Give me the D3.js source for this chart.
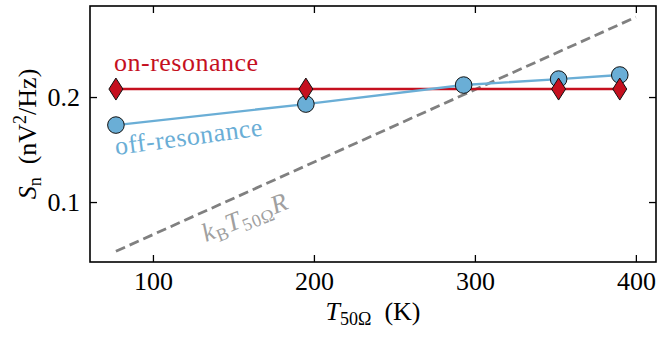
<!DOCTYPE html>
<html>
<head>
<meta charset="utf-8">
<script src="https://cdn.jsdelivr.net/npm/d3@7"></script>
<style>
  body { margin: 0; background: #fff; }
  text { font-family: "Liberation Serif", "DejaVu Serif", serif; }
</style>
</head>
<body>
<div id="chart"></div>
<script>
// Data
const offTemps = [77, 195, 293, 352, 390];
const offValues = [0.1733, 0.1933, 0.2114, 0.2171, 0.2210];
const onTemps = [77, 195, 352, 390];
const onValues = [0.2076, 0.2076, 0.2076, 0.2076];
const theoryTemps = [77, 400];
const theoryValues = [0.0531, 0.2761];
const xTicks = [100, 200, 300, 400];
const yTicks = [0.1, 0.2];

const width = 657;
const height = 339;
const margin = { top: 6, right: 1, bottom: 77, left: 90 };
const w = width - margin.left - margin.right;
const h = height - margin.top - margin.bottom;

const red = "#c5101f";
const blue = "#6aaed6";
const grey = "#808080";
const fs = 26;

const svg = d3.select("#chart")
    .append("svg")
    .attr("width", width)
    .attr("height", height);

const g = svg.append("g")
    .attr("transform", `translate(${margin.left},${margin.top})`);

const x = d3.scaleLinear().domain([60.9, 412.5]).range([0, w]);
const y = d3.scaleLinear().domain([0.0429, 0.2867]).range([h, 0]);

// Axes with inward ticks on all four sides
g.append("g")
    .attr("transform", `translate(0,${h})`)
    .call(d3.axisBottom(x).tickValues(xTicks).tickSizeInner(-7).tickSizeOuter(0).tickPadding(10))
    .call(a => a.selectAll("text").attr("font-size", fs).attr("fill", "#000"));
g.append("g")
    .call(d3.axisTop(x).tickValues(xTicks).tickSizeInner(-7).tickSizeOuter(0).tickFormat(""));
g.append("g")
    .call(d3.axisLeft(y).tickValues(yTicks).tickFormat(d3.format(".1f")).tickSizeInner(-7).tickSizeOuter(0).tickPadding(10))
    .call(a => a.selectAll("text").attr("font-size", fs).attr("fill", "#000"));
g.append("g")
    .attr("transform", `translate(${w},0)`)
    .call(d3.axisRight(y).tickValues(yTicks).tickSizeInner(-7).tickSizeOuter(0).tickFormat(""));

g.selectAll(".domain").remove();
g.selectAll(".tick line").attr("stroke", "#000").attr("stroke-width", 1.3);

g.append("rect")
    .attr("width", w)
    .attr("height", h)
    .attr("fill", "none")
    .attr("stroke", "#000")
    .attr("stroke-width", 1.6);

const line = d3.line().x(d => x(d[0])).y(d => y(d[1]));

// kB T R theory line
g.append("path")
    .datum(d3.zip(theoryTemps, theoryValues))
    .attr("d", line)
    .attr("fill", "none")
    .attr("stroke", grey)
    .attr("stroke-width", 2.8)
    .attr("stroke-dasharray", "10,5");

// on-resonance
g.append("path")
    .datum(d3.zip(onTemps, onValues))
    .attr("d", line)
    .attr("fill", "none")
    .attr("stroke", red)
    .attr("stroke-width", 2.4);

// off-resonance
g.append("path")
    .datum(d3.zip(offTemps, offValues))
    .attr("d", line)
    .attr("fill", "none")
    .attr("stroke", blue)
    .attr("stroke-width", 2.4);

g.selectAll(".circ")
    .data(d3.zip(offTemps, offValues))
    .enter().append("circle")
    .attr("cx", d => x(d[0]))
    .attr("cy", d => y(d[1]))
    .attr("r", 8.3)
    .attr("fill", blue)
    .attr("stroke", "#111")
    .attr("stroke-width", 1);

g.selectAll(".diam")
    .data(d3.zip(onTemps, onValues))
    .enter().append("path")
    .attr("transform", d => `translate(${x(d[0])},${y(d[1])})`)
    .attr("d", "M0,-11L7,0L0,11L-7,0Z")
    .attr("fill", red)
    .attr("stroke", "#111")
    .attr("stroke-width", 1);

// labels inside plot
g.append("text")
    .attr("x", 24)
    .attr("y", 65)
    .attr("font-size", fs)
    .attr("letter-spacing", 0.5)
    .attr("fill", red)
    .text("on-resonance");

g.append("text")
    .attr("transform", "translate(26,149) rotate(-7.6)")
    .attr("font-size", fs)
    .attr("letter-spacing", 0.5)
    .attr("fill", blue)
    .text("off-resonance");

const kt = g.append("text")
    .attr("transform", "translate(116,236) rotate(-22)")
    .attr("font-size", fs)
    .attr("letter-spacing", 0.8)
    .attr("fill", "#a0a0a0");
kt.append("tspan").attr("font-style", "italic").text("k");
kt.append("tspan").attr("font-size", 18).attr("dy", 5).text("B");
kt.append("tspan").attr("font-style", "italic").attr("dy", -5).text("T");
kt.append("tspan").attr("font-size", 18).attr("dy", 5).text("50Ω");
kt.append("tspan").attr("font-style", "italic").attr("dy", -5).text("R");

// axis titles
const xl = svg.append("text")
    .attr("x", margin.left + w / 2)
    .attr("y", 320)
    .attr("text-anchor", "middle")
    .attr("font-size", fs);
xl.append("tspan").attr("font-style", "italic").text("T");
xl.append("tspan").attr("font-size", 18).attr("dy", 5).text("50Ω");
xl.append("tspan").attr("dy", -5).text("\u2002(K)");

const yl = svg.append("text")
    .attr("transform", `translate(36,${margin.top + h / 2}) rotate(-90)`)
    .attr("text-anchor", "middle")
    .attr("font-size", fs);
yl.append("tspan").attr("font-style", "italic").text("S");
yl.append("tspan").attr("font-size", 18).attr("dy", 5).text("n");
yl.append("tspan").attr("dy", -5).text("\u2002(nV");
yl.append("tspan").attr("font-size", 18).attr("dy", -10).text("2");
yl.append("tspan").attr("dy", 10).text("/Hz)");
</script>
</body>
</html>
